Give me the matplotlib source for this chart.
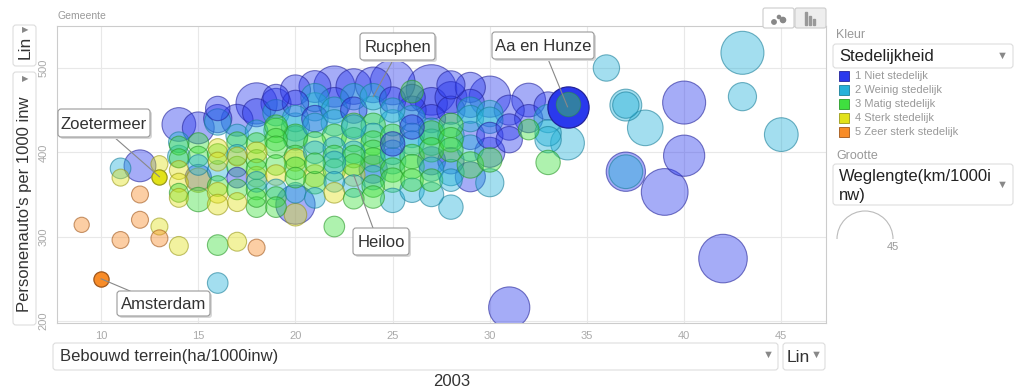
import numpy as np
import matplotlib
matplotlib.use("Agg")
import matplotlib.pyplot as plt
from matplotlib.patches import FancyBboxPatch, Rectangle, Arc, Circle

plt.rcParams["font.family"] = ["Liberation Sans", "DejaVu Sans"]

# Gemeenten, 2003: bebouwd terrein (ha/1000 inw), personenauto's per 1000 inw,
# weglengte (km/1000 inw), stedelijkheidsklasse (1..5)
bebouwd = [
    9, 10,
    11, 11, 11,
    12, 12, 12,
    13, 13, 13, 13,
    14, 14, 14, 14, 14, 14, 14, 14, 14, 14,
    15, 15, 15, 15, 15, 15, 15,
    16, 16, 16, 16, 16, 16, 16, 16, 16, 16, 16,
    17, 17, 17, 17, 17, 17, 17, 17, 17, 17,
    18, 18, 18, 18, 18, 18, 18, 18, 18, 18, 18, 18, 18,
    19, 19, 19, 19, 19, 19, 19, 19, 19, 19, 19,
    20, 20, 20, 20, 20, 20, 20, 20, 20, 20, 20, 20, 20,
    21, 21, 21, 21, 21, 21, 21, 21, 21, 21,
    22, 22, 22, 22, 22, 22, 22, 22, 22, 22, 22,
    23, 23, 23, 23, 23, 23, 23, 23, 23, 23, 23,
    24, 24, 24, 24, 24, 24, 24, 24, 24, 24, 24, 24,
    25, 25, 25, 25, 25, 25, 25, 25, 25, 25,
    26, 26, 26, 26, 26, 26, 26, 26, 26, 26,
    27, 27, 27, 27, 27, 27, 27, 27, 27, 27,
    28, 28, 28, 28, 28, 28, 28, 28, 28, 28,
    29, 29, 29, 29, 29, 29, 29, 29,
    30, 30, 30, 30, 30, 30, 30,
    31, 31, 31, 31,
    32, 32, 32,
    33, 33, 33, 33, 33,
    34, 34, 34,
    36, 37, 37, 37, 37, 38, 39, 40, 40, 42, 43, 43, 45,
    16, 19, 21, 22, 23, 25, 26, 27, 28,
]
autos = [
    314, 250,
    296, 381, 370,
    320, 350, 384,
    312, 298, 386, 371,
    289, 433, 412, 408, 393, 379, 364, 352, 346, 395,
    429, 411, 395, 367, 370, 344, 385,
    290, 245, 436, 440, 405, 389, 378, 360, 352, 338, 398,
    294, 438, 420, 412, 397, 383, 370, 356, 341, 395,
    287, 458, 447, 425, 411, 391, 371, 356, 346, 335, 400, 380, 365,
    458, 431, 447, 415, 406, 385, 373, 356, 347, 335, 426,
    338, 326, 474, 458, 440, 430, 417, 395, 391, 381, 352, 370, 419,
    478, 454, 432, 411, 400, 387, 372, 364, 346, 440,
    478, 458, 450, 435, 419, 405, 395, 379, 365, 352, 312,
    478, 466, 450, 432, 415, 400, 395, 373, 385, 360, 345,
    480, 466, 450, 432, 420, 411, 400, 391, 380, 370, 360, 347,
    483, 462, 450, 435, 419, 400, 379, 367, 343, 390,
    472, 465, 450, 440, 420, 411, 395, 383, 367, 355,
    474, 458, 440, 425, 423, 412, 403, 390, 380, 367,
    465, 450, 432, 415, 420, 403, 390, 376, 367, 335,
    477, 458, 450, 440, 420, 405, 385, 371,
    466, 446, 438, 420, 391, 364, 400,
    450, 430, 415, 216,
    462, 440, 427,
    455, 423, 415, 388, 440,
    454, 457, 411,
    500, 456, 456, 377, 377, 429, 353, 459, 396, 274, 518, 466, 421,
    452, 465, 465, 388, 430, 410, 430, 350, 480,
]
weglengte = [
    2.1, 2.1,
    2.8, 4.6, 2.8,
    2.8, 2.8, 12.9,
    2.8, 2.8, 2.8, 2.1,
    3.7, 14.7, 4.6, 3.7, 3.7, 3.7, 3.7, 3.7, 3.7, 5.7,
    12.9, 4.6, 4.6, 6.9, 8.3, 6.9, 4.6,
    4.6, 4.6, 8.3, 9.7, 3.7, 3.7, 4.6, 4.6, 4.6, 4.6, 4.6,
    3.7, 12.9, 5.7, 4.6, 4.6, 4.6, 4.6, 4.6, 3.7, 3.7,
    2.8, 23.0, 9.7, 5.7, 4.6, 4.6, 4.6, 4.6, 3.7, 4.6, 4.6, 4.6, 4.6,
    11.3, 5.7, 8.3, 5.7, 5.7, 4.6, 4.6, 4.6, 4.6, 4.6, 6.9,
    20.7, 5.7, 11.3, 8.3, 8.3, 9.7, 6.9, 5.7, 5.7, 5.7, 4.6, 4.6, 6.9,
    12.9, 9.7, 6.9, 5.7, 5.7, 4.6, 5.7, 5.7, 4.6, 8.3,
    23.0, 12.9, 8.3, 8.3, 6.9, 5.7, 5.7, 5.7, 4.6, 4.6, 4.6,
    16.6, 8.3, 8.3, 6.9, 6.9, 5.7, 5.7, 5.7, 5.7, 5.7, 4.6,
    16.6, 8.3, 9.7, 6.9, 6.9, 6.9, 6.9, 6.9, 9.7, 6.9, 5.7, 5.7,
    27.8, 8.3, 6.9, 8.3, 6.9, 6.9, 6.9, 6.9, 6.9, 8.3,
    5.7, 8.3, 9.7, 8.3, 6.9, 6.9, 6.9, 6.9, 5.7, 6.9,
    35.9, 12.9, 9.7, 8.3, 6.9, 8.3, 6.9, 9.7, 6.9, 5.7,
    12.9, 9.7, 6.9, 6.9, 8.3, 6.9, 8.3, 8.3, 5.7, 6.9,
    11.3, 9.7, 8.3, 8.3, 9.7, 8.3, 8.3, 11.3,
    23.0, 8.3, 8.3, 8.3, 6.9, 9.7, 11.3,
    11.3, 8.3, 8.3, 23.0,
    14.7, 9.7, 4.6,
    9.7, 8.3, 8.3, 6.9, 9.7,
    23.0, 6.9, 14.7,
    8.3, 12.9, 8.3, 20.7, 14.7, 16.6, 30.4, 25.3, 23.0, 33.0, 25.3, 9.7, 14.7,
    6.9, 8.3, 9.7, 5.7, 6.9, 6.9, 6.9, 6.9, 9.7,
]
stedelijkheid = [
    5, 5,
    5, 2, 4,
    5, 5, 1,
    4, 5, 4, 4,
    4, 1, 2, 3, 3, 4, 4, 3, 4, 2,
    1, 3, 3, 4, 1, 3, 2,
    3, 2, 2, 1, 4, 4, 2, 3, 4, 4, 3,
    4, 1, 2, 3, 2, 3, 1, 3, 4, 4,
    5, 1, 1, 2, 3, 3, 4, 3, 3, 3, 4, 3, 2,
    1, 3, 2, 3, 3, 3, 4, 2, 3, 3, 3,
    1, 4, 1, 1, 2, 2, 2, 3, 4, 3, 2, 3, 3,
    1, 2, 2, 3, 2, 3, 4, 3, 2, 1,
    1, 1, 2, 2, 3, 2, 3, 3, 2, 4, 3,
    1, 2, 1, 3, 3, 2, 3, 4, 3, 2, 3,
    1, 2, 2, 3, 2, 3, 3, 3, 1, 2, 3, 3,
    1, 1, 2, 2, 3, 2, 3, 3, 2, 2,
    3, 1, 1, 2, 2, 2, 3, 3, 3, 2,
    1, 1, 1, 2, 3, 2, 3, 1, 2, 3,
    1, 1, 3, 3, 2, 3, 1, 2, 2, 2,
    1, 1, 2, 2, 1, 2, 3, 1,
    1, 2, 2, 1, 3, 2, 1,
    1, 1, 1, 1,
    1, 1, 3,
    1, 2, 2, 3, 2,
    1, 3, 2,
    2, 2, 2, 1, 2, 2, 1, 1, 1, 1, 2, 2, 2,
    1, 1, 2, 2, 2, 1, 1, 2, 1,
]

klassen = ["1 Niet stedelijk", "2 Weinig stedelijk", "3 Matig stedelijk",
           "4 Sterk stedelijk", "5 Zeer sterk stedelijk"]
kleuren = ["#2a39ed", "#25b1d9", "#3fe03f", "#e2e21a", "#f88c28"]
randen = ["#23239a", "#1a7f99", "#2a992a", "#99991a", "#a0561a"]

# gemeenten met label: naam -> index in de lijsten
labels = {"Amsterdam": 1, "Zoetermeer": 11, "Heiloo": 115, "Rucphen": 120,
          "Aa en Hunze": 198}
opaak = ["Amsterdam", "Zoetermeer", "Aa en Hunze"]
boven_aa = 199  # bubble that lies on top of Aa en Hunze

W, H, DPI = 1023, 389, 100
fig = plt.figure(figsize=(W / DPI, H / DPI), dpi=DPI)


def frac(x0, y0, x1, y1):
    return [x0 / W, 1 - y1 / H, (x1 - x0) / W, (y1 - y0) / H]


ax = fig.add_axes(frac(57, 26, 826, 323))
ax.set_xlim(7.73, 47.3)
ax.set_ylim(197.6, 549.8)
ax.set_xticks([10, 15, 20, 25, 30, 35, 40, 45])
ax.set_yticks([200, 300, 400, 500])
ax.grid(color="#e8e8e8", linewidth=0.8)
ax.set_axisbelow(True)
for sp in ax.spines.values():
    sp.set_color("#cccccc")
ax.tick_params(length=0, colors="#aaaaaa", labelsize=8, pad=6)
for t in ax.get_yticklabels():
    t.set_rotation(90)
    t.set_va("center")

x = np.array(bebouwd, float)
y = np.array(autos, float)
w = np.array(weglengte, float)
c = np.array(stedelijkheid)
# bubble radius in pixels; 45 km/1000 inw -> 28 px as in the size legend
r_px = 2 + 26 * np.sqrt(w / 45)
s_pt = (2 * r_px * 72 / DPI) ** 2

special = {labels[n] for n in opaak} | {boven_aa}
order = np.argsort(-w, kind="stable")
for i in order:
    if i in special:
        continue
    k = c[i] - 1
    ax.scatter(x[i], y[i], s=s_pt[i], color=kleuren[k], alpha=0.42,
               edgecolors="none", zorder=2)
    ax.scatter(x[i], y[i], s=s_pt[i], facecolors="none",
               edgecolors=randen[k], linewidths=0.8, alpha=0.6, zorder=2)
for n in opaak:
    i = labels[n]
    k = c[i] - 1
    ax.scatter(x[i], y[i], s=s_pt[i], color=kleuren[k], edgecolors=randen[k],
               linewidths=0.9, zorder=3)
k = c[boven_aa] - 1
ax.scatter(x[boven_aa], y[boven_aa], s=s_pt[boven_aa], color=kleuren[k],
           alpha=0.42, edgecolors=randen[k], linewidths=0.8, zorder=4)

# overlay in pixel coordinates for the interface elements
ui = fig.add_axes([0, 0, 1, 1], zorder=5)
ui.set_xlim(0, W)
ui.set_ylim(H, 0)
ui.axis("off")
ui.patch.set_alpha(0)


def box(x0, y0, x1, y1, ec="#dddddd", fc="white", lw=0.8, rad=3, z=5):
    ui.add_patch(FancyBboxPatch((x0, y0), x1 - x0, y1 - y0,
                                boxstyle=f"round,pad=0,rounding_size={rad}",
                                fc=fc, ec=ec, lw=lw, zorder=z))


def txt(px, py, s, **kw):
    kw.setdefault("va", "center")
    kw.setdefault("zorder", 10)
    ui.text(px, py, s, **kw)


def to_px(i):
    dx, dy = ax.transData.transform((x[i], y[i]))
    return dx, H - dy


callouts = {
    "Rucphen": ((360, 33, 435, 60), (393, 60)),
    "Aa en Hunze": ((492, 32, 594, 59), (548, 59)),
    "Zoetermeer": ((58, 109, 150, 137), (114, 137)),
    "Heiloo": ((353, 228, 409, 255), (373, 228)),
    "Amsterdam": ((117, 291, 210, 316), (130, 291)),
}
for naam, ((x0, y0, x1, y1), (lx, ly)) in callouts.items():
    bx, by = to_px(labels[naam])
    ui.plot([lx, bx], [ly, by], color="#888888", lw=0.8, zorder=4)
    box(x0 + 2, y0 + 2, x1 + 2, y1 + 2, ec="none", fc="#d8d8d8", z=5)
    box(x0, y0, x1, y1, ec="#999999", z=6)
    txt((x0 + x1) / 2, (y0 + y1) / 2 + 1, naam, ha="center", fontsize=12,
        color="#333333")

txt(58, 16, "Gemeente", fontsize=7.5, color="#999999")

# tabs top right
box(763, 8, 794, 28, ec="#cccccc", fc="white", rad=2)
box(795, 8, 826, 28, ec="#cccccc", fc="#eeeeee", rad=2)
for cx, cy, rr in [(774, 22, 2.2), (779, 17, 1.6), (783, 20, 2.6)]:
    ui.add_patch(Circle((cx, cy), rr, color="#888888", zorder=6))
for bx0, bh in [(805, 13), (809, 9), (813, 6)]:
    ui.add_patch(Rectangle((bx0, 25 - bh), 1.5, bh, color="#999999", zorder=6))

# y axis selectors
box(13, 25, 36, 66)
txt(25, 47, "Lin", rotation=90, ha="center", fontsize=12.5, color="#333333")
txt(25, 31, "▶", ha="center", fontsize=6, color="#888888")
box(13, 72, 36, 325)
txt(25, 204, "Personenauto's per 1000 inw", rotation=90, ha="center",
    fontsize=12, color="#333333")
txt(25, 80, "▶", ha="center", fontsize=6, color="#888888")

# x axis selectors
box(53, 343, 778, 370)
txt(60, 356, "Bebouwd terrein(ha/1000inw)", ha="left", fontsize=12,
    color="#333333")
txt(768, 355, "▼", ha="center", fontsize=8, color="#888888")
box(783, 343, 825, 370)
txt(787, 357, "Lin", ha="left", fontsize=12.5, color="#333333")
txt(816, 355, "▼", ha="center", fontsize=8, color="#888888")
txt(452, 381, "2003", ha="center", fontsize=12, color="#333333")

# right panel: colour and size
txt(836, 35, "Kleur", fontsize=9, color="#999999")
box(833, 44, 1013, 68)
txt(839, 56, "Stedelijkheid", fontsize=12, color="#222222")
txt(1002, 56, "▼", ha="center", fontsize=8, color="#888888")
for j, (naam, kl, rd) in enumerate(zip(klassen, kleuren, randen)):
    yy = 76 + 14 * j
    ui.add_patch(Rectangle((839, yy - 5), 10, 10, fc=kl, ec=rd, lw=0.6,
                           zorder=6))
    txt(855, yy, naam, fontsize=8, color="#999999")
txt(836, 156, "Grootte", fontsize=9, color="#999999")
box(833, 164, 1013, 205)
txt(839, 176, "Weglengte(km/1000i", fontsize=12, color="#222222")
txt(839, 195, "nw)", fontsize=12, color="#222222")
txt(1002, 185, "▼", ha="center", fontsize=8, color="#888888")
ui.add_patch(Arc((865, 239), 56, 56, theta1=180, theta2=360, color="#bbbbbb",
                 lw=0.8))
txt(893, 247, "45", fontsize=8, color="#999999", ha="center")

fig.savefig("out.png", dpi=DPI)
